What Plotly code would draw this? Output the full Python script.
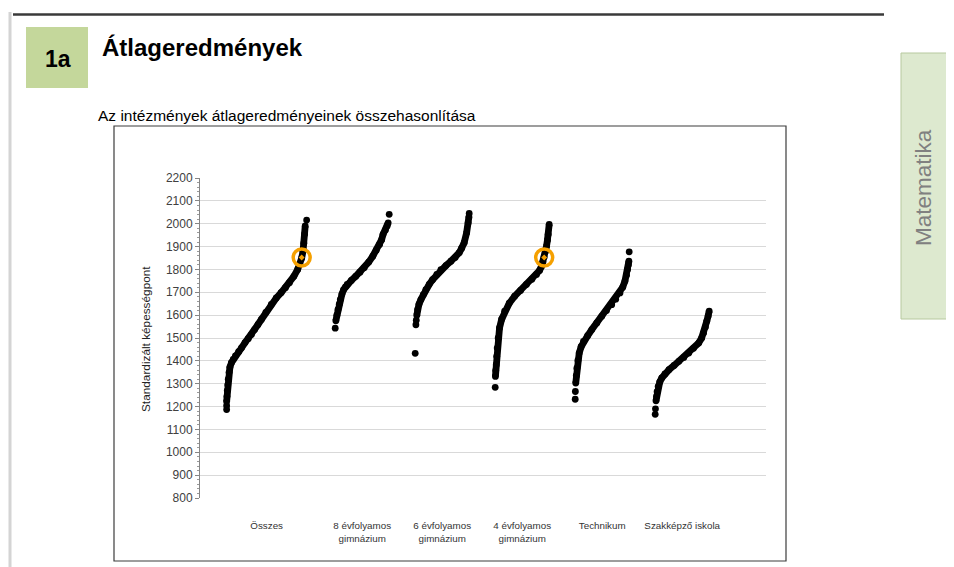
import plotly.graph_objects as go

# category labels (x axis)
categories = ["Összes", "8 évfolyamos<br>gimnázium", "6 évfolyamos<br>gimnázium",
              "4 évfolyamos<br>gimnázium", "Technikum", "Szakképző iskola"]

# sorted school averages: rank percentile within group + value
osszes_pct = [0.0, 0.004, 0.008, 0.014, 0.02, 0.03, 0.041, 0.06, 0.082, 0.11, 0.15, 0.186,
              0.23, 0.27, 0.31, 0.35, 0.39, 0.434, 0.49, 0.558, 0.62, 0.68, 0.735, 0.785,
              0.84, 0.888, 0.915, 0.938, 0.955, 0.965, 0.975, 0.982]
osszes_val = [1222, 1245, 1270, 1295, 1320, 1350, 1372, 1392, 1406, 1422, 1440, 1457,
              1480, 1497, 1515, 1537, 1558, 1581, 1612, 1647, 1675, 1698, 1720, 1742,
              1770, 1800, 1822, 1850, 1880, 1915, 1955, 1990]
osszes_dot_pct = [0.0, 0.0, 1.0]
osszes_dot_val = [1187, 1204, 2016]

gimn8_pct = [0.012, 0.03, 0.051, 0.075, 0.095, 0.125, 0.157, 0.19, 0.222, 0.30, 0.38,
             0.46, 0.537, 0.62, 0.696, 0.76, 0.822, 0.86, 0.886, 0.93, 0.962, 0.981]
gimn8_val = [1575, 1600, 1624, 1648, 1668, 1692, 1712, 1724, 1734, 1752, 1770,
             1788, 1807, 1832, 1858, 1884, 1909, 1930, 1953, 1972, 1990, 2004]
gimn8_dot_pct = [0.0, 1.0]
gimn8_dot_val = [1543, 2041]

gimn6_pct = [0.03, 0.044, 0.07, 0.106, 0.15, 0.198, 0.26, 0.322, 0.40, 0.476, 0.57,
             0.661, 0.74, 0.815, 0.86, 0.907, 0.952, 0.981, 0.995]
gimn6_val = [1600, 1624, 1648, 1668, 1690, 1712, 1735, 1755, 1778, 1799, 1817,
             1836, 1852, 1873, 1893, 1917, 1960, 2004, 2030]
gimn6_dot_pct = [0.0, 0.013, 0.02, 1.0]
gimn6_dot_val = [1433, 1558, 1578, 2045]

gimn4_pct = [0.004, 0.01, 0.019, 0.028, 0.037, 0.055, 0.08, 0.12, 0.174, 0.26, 0.36, 0.47,
             0.578, 0.68, 0.765, 0.82, 0.858, 0.885, 0.907, 0.93, 0.951, 0.967, 0.981, 1.0]
gimn4_val = [1332, 1358, 1383, 1420, 1456, 1500, 1544, 1582, 1617, 1652, 1683, 1708,
             1734, 1757, 1778, 1795, 1814, 1834, 1854, 1878, 1902, 1928, 1953, 1997]
gimn4_dot_pct = [0.0]
gimn4_dot_val = [1284]

tech_pct = [0.01, 0.02, 0.031, 0.05, 0.074, 0.11, 0.153, 0.23, 0.308, 0.40, 0.492,
            0.58, 0.676, 0.75, 0.829, 0.88, 0.921, 0.95, 0.97, 0.985, 0.994]
tech_val = [1303, 1335, 1368, 1402, 1434, 1462, 1485, 1510, 1537, 1566, 1595,
            1620, 1646, 1670, 1697, 1722, 1749, 1775, 1800, 1820, 1836]
tech_dot_pct = [0.0, 0.003, 1.0]
tech_dot_val = [1232, 1266, 1877]

szakk_pct = [0.015, 0.024, 0.035, 0.055, 0.085, 0.122, 0.18, 0.256, 0.35, 0.439,
             0.53, 0.622, 0.71, 0.804, 0.86, 0.896, 0.93, 0.956, 0.98, 1.0]
szakk_val = [1225, 1244, 1265, 1288, 1308, 1325, 1343, 1361, 1380, 1398,
             1415, 1434, 1455, 1478, 1500, 1522, 1548, 1574, 1596, 1618]
szakk_dot_pct = [0.0, 0.005]
szakk_dot_val = [1166, 1190]

# the highlighted institution (Összes and 4 évfolyamos gimnázium)
highlight_group = [0, 3]
highlight_pct = [0.938, 0.907]
highlight_val = [1852, 1852]

curves = [(osszes_pct, osszes_val), (gimn8_pct, gimn8_val), (gimn6_pct, gimn6_val),
          (gimn4_pct, gimn4_val), (tech_pct, tech_val), (szakk_pct, szakk_val)]
dots = [(osszes_dot_pct, osszes_dot_val), (gimn8_dot_pct, gimn8_dot_val),
        (gimn6_dot_pct, gimn6_dot_val), (gimn4_dot_pct, gimn4_dot_val),
        (tech_dot_pct, tech_dot_val), (szakk_dot_pct, szakk_dot_val)]

# horizontal placement of each group's strip (x axis units)
group_start = [0.333, 1.69, 2.69, 3.69, 4.69, 5.69]
group_width = [1.0, 0.675, 0.675, 0.675, 0.675, 0.675]


def gx(i, pct):
    return [group_start[i] + p * group_width[i] for p in pct]


fig = go.Figure()

for i in range(6):
    p, v = curves[i]
    fig.add_trace(go.Scatter(x=gx(i, p), y=v, mode="lines+markers",
                             line=dict(color="black", width=6.8),
                             marker=dict(color="black", size=6.8),
                             hoverinfo="y", showlegend=False))
    p, v = dots[i]
    fig.add_trace(go.Scatter(x=gx(i, p), y=v, mode="markers",
                             marker=dict(color="black", size=6.8),
                             hoverinfo="y", showlegend=False))

hx = [gx(g, [p])[0] for g, p in zip(highlight_group, highlight_pct)]
fig.add_trace(go.Scatter(x=hx, y=highlight_val, mode="markers",
                         marker=dict(symbol="circle-open-dot", size=17, color="#f5a000",
                                     line=dict(width=3.5, color="#f5a000")),
                         hoverinfo="y", showlegend=False))

# page has an 8px body margin, so the figure is a bit smaller and shifted
OFF = 8
FW, FH = 954 - OFF, 567 - OFF
L, T, W, H = 200 - OFF, 178 - OFF, 566, 320


def fx(px):
    return (px - OFF - L) / W


def fy(py):
    return (T + H - (py - OFF)) / H


font = "Liberation Sans, Arial, sans-serif"


def rect(x0, y0, x1, y1, **kw):
    return dict(type="rect", xref="paper", yref="paper",
                x0=fx(x0), x1=fx(x1), y0=fy(y0), y1=fy(y1), **kw)


def hline(x0, x1, y, **kw):
    return dict(type="line", xref="paper", yref="paper",
                x0=fx(x0), x1=fx(x1), y0=fy(y), y1=fy(y), **kw)


def vline(x, y0, y1, **kw):
    return dict(type="line", xref="paper", yref="paper",
                x0=fx(x), x1=fx(x), y0=fy(y0), y1=fy(y1), **kw)


shapes = [
    vline(10, 12, 567, line=dict(color="#d4d4d4", width=3)),
    hline(13, 884, 14.5, line=dict(color="#3a3a3a", width=2.5)),
    rect(26, 27, 88, 88, fillcolor="#c4d79b", line=dict(width=0)),
    rect(114, 126, 786, 561, line=dict(color="#3c3c3c", width=1.2)),
    rect(901, 53, 960, 319, fillcolor="#dde9cf", line=dict(color="#b7c99f", width=1)),
]


def note(text, x, y, size, color="black", xanchor="center", angle=0):
    return dict(text=text, x=fx(x), y=fy(y), xref="paper", yref="paper",
                xanchor=xanchor, yanchor="middle", textangle=angle, showarrow=False,
                font=dict(size=size, color=color, family=font))


annotations = [
    note("<b>1a</b>", 58, 59, 23),
    note("<b>Átlageredmények</b>", 100, 47, 24, xanchor="left"),
    note("Az intézmények átlageredményeinek összehasonlítása", 96, 115, 15.5, xanchor="left"),
    note("Standardizált képességpont", 146, 339, 11.8, color="#222", angle=-90),
    note("Matematika", 923, 188, 22.5, color="#808080", angle=-90),
]

tick_pos = [group_start[i] + group_width[i] / 2 for i in range(6)]

fig.update_layout(
    width=FW,
    height=FH,
    autosize=False,
    margin=dict(l=L, r=FW - L - W, t=T, b=FH - T - H),
    paper_bgcolor="white",
    plot_bgcolor="rgba(0,0,0,0)",
    font=dict(family=font),
    shapes=shapes,
    annotations=annotations,
    xaxis=dict(range=[0, W / 80], showgrid=False, zeroline=False, showline=False,
               tickmode="array", tickvals=tick_pos, ticktext=categories,
               ticks="outside", ticklen=18, tickcolor="rgba(0,0,0,0)",
               tickfont=dict(size=9.8, color="#333")),
    yaxis=dict(range=[800, 2200], tick0=800, dtick=100, showgrid=True,
               gridcolor="#d9d9d9", gridwidth=1, zeroline=False,
               showline=True, linecolor="#868686", linewidth=1,
               ticks="outside", ticklen=4, tickcolor="#868686",
               minor=dict(dtick=20, ticks="outside", ticklen=2, tickcolor="#9a9a9a",
                          showgrid=False),
               tickfont=dict(size=12, color="#404040")),
)

fig.write_html("out.html")
